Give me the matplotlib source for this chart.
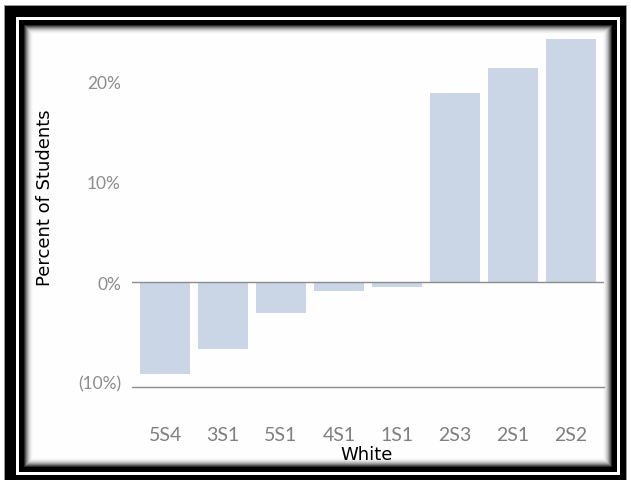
import matplotlib
matplotlib.use("Agg")
import matplotlib.pyplot as plt
from matplotlib.patches import Rectangle

# data
groups = ["5S4", "3S1", "5S1", "4S1", "1S1", "2S3", "2S1", "2S2"]
values = [-9.2, -6.7, -3.1, -0.9, -0.5, 18.9, 21.4, 24.3]
y_ticks = [-10, 0, 10, 20]
y_labels = ["(10%)", "0%", "10%", "20%"]

W, H = 631, 481
fig = plt.figure(figsize=(W / 100, H / 100), dpi=100)
fig.patch.set_facecolor("white")


def box(x0, y0, x1, y1, color):
    # pixel box, y measured from top
    fig.add_artist(Rectangle((x0 / W, 1 - y1 / H), (x1 - x0) / W, (y1 - y0) / H,
                             transform=fig.transFigure, facecolor=color,
                             edgecolor="none", zorder=0))


# double black frame with soft inner shadow
box(4, 6, 627, 481, "#9a9a9a")
box(5, 7, 626, 481, "black")
box(16, 18, 620, 476, "white")
box(19, 21, 617, 473, "black")
shades = ["#2a2a2a", "#555555", "#7d7d7d", "#a0a0a0", "#bdbdbd", "#d4d4d4", "#e6e6e6", "#f2f2f2", "#fafafa"]
for i, c in enumerate(shades):
    box(24 + i, 26 + i, 612 - i, 468 - i, c)
box(33, 35, 603, 459, "#fefefe")

ax = fig.add_axes([132 / W, 1 - 388 / H, 472 / W, 355 / H])
ax.set_facecolor("none")
x = range(len(groups))
ax.bar(x, values, width=0.86, color="#cad5e5", zorder=2)
ax.axhline(0, color="#8c8c8c", lw=1, zorder=3)
ax.set_xlim(-0.57, len(groups) - 0.43)
ax.set_ylim(-10.5, 25)

for s in ["top", "right", "left"]:
    ax.spines[s].set_visible(False)
ax.spines["bottom"].set_color("#8c8c8c")
ax.spines["bottom"].set_linewidth(1)

ax.set_xticks(list(x))
ax.set_xticklabels(groups, fontfamily="Lato", fontsize=14, color="#7f7f7f")
ax.set_yticks(y_ticks)
ax.set_yticklabels(y_labels, fontfamily="Lato", fontsize=12.5, color="#8c8c8c")
ax.tick_params(axis="x", length=0, pad=28)
ax.tick_params(axis="y", length=0, pad=8)

fig.text(367 / W, 1 - 455 / H, "White", ha="center", va="center",
         fontsize=13, color="black")
fig.text(45 / W, 1 - 198 / H, "Percent of Students", ha="center", va="center",
         rotation=90, fontsize=13, color="black")

fig.savefig("out.png", dpi=100)
